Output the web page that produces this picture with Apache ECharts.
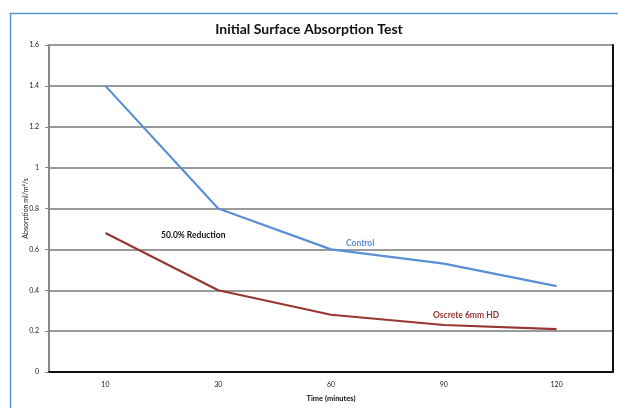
<!DOCTYPE html>
<html><head><meta charset="utf-8">
<script src="https://cdn.jsdelivr.net/npm/echarts@6/dist/echarts.min.js"></script>
<style>html,body{margin:0;padding:0;background:#fff}#c{width:618px;height:408px}</style>
</head><body><div id="c"></div>
<script>
const categories = ['10', '30', '60', '90', '120'];
const controlValues = [1.4, 0.8, 0.6, 0.53, 0.42];
const oscreteValues = [0.68, 0.40, 0.28, 0.23, 0.21];
const yTicks = [0, 0.2, 0.4, 0.6, 0.8, 1, 1.2, 1.4, 1.6];

const FONT = 'Lato, "Open Sans", sans-serif';
const chart = echarts.init(document.getElementById('c'), null, {renderer: 'canvas'});
chart.setOption({
  animation: false,
  backgroundColor: '#fff',
  title: {
    text: 'Initial Surface Absorption Test',
    left: 'center', top: 17,
    textStyle: {fontFamily: FONT, fontSize: 14, fontWeight: 'bold', color: '#111'}
  },
  grid: {left: 49, right: 5, top: 45, bottom: 34, containLabel: false},
  xAxis: [{
    type: 'category', data: categories, boundaryGap: true,
    name: 'Time (minutes)', nameLocation: 'middle', nameGap: 23,
    nameTextStyle: {fontFamily: FONT, fontSize: 7.5, fontWeight: 'bold', color: '#111'},
    axisLine: {lineStyle: {color: '#666', width: 2}},
    axisTick: {show: false},
    axisLabel: {fontFamily: FONT, fontSize: 7, color: '#222', margin: 9}
  }, {
    type: 'category', data: categories, position: 'top',
    axisLine: {lineStyle: {color: '#111', width: 2}},
    axisTick: {show: false}, axisLabel: {show: false}
  }],
  yAxis: [{
    type: 'value', min: 0, max: 1.6, interval: 0.2,
    name: 'Absorption ml/m²/s', nameLocation: 'middle', nameGap: 20, nameRotate: 90,
    nameMoveOverlap: false,
    nameTextStyle: {fontFamily: FONT, fontSize: 7, color: '#222'},
    axisLine: {show: true, lineStyle: {color: '#888', width: 2}},
    axisTick: {show: true, length: 4, lineStyle: {color: '#888'}},
    axisLabel: {fontFamily: FONT, fontSize: 7, color: '#222', margin: 10,
      formatter: v => { const t = yTicks.find(x => Math.abs(x - v) < 1e-9); return String(t); }},
    splitLine: {show: true, lineStyle: {color: '#9a9a9a', width: 2}}
  }, {
    type: 'value', min: 0, max: 1.6, interval: 0.2, position: 'right',
    axisLine: {show: true, lineStyle: {color: '#111', width: 2}},
    axisTick: {show: false}, axisLabel: {show: false}, splitLine: {show: false}
  }],
  series: [{
    name: 'Control', type: 'line', data: controlValues,
    symbol: 'none', lineStyle: {color: '#5a8fd6', width: 2.2}, z: 5
  }, {
    name: 'Oscrete 6mm HD', type: 'line', data: oscreteValues,
    symbol: 'none', lineStyle: {color: '#963634', width: 2.2}, z: 5
  }],
  graphic: [
    {type: 'rect', left: 8, top: 11, shape: {width: 700, height: 500},
     style: {fill: 'none', stroke: '#5b8fd8', lineWidth: 1.5}, z: 100, silent: true},
    {type: 'text', left: 161, top: 231,
     style: {text: '50.0% Reduction', fill: '#111', font: 'bold 8.5px ' + FONT}, z: 100},
    {type: 'text', left: 346, top: 239,
     style: {text: 'Control', fill: '#5a8fd6', font: 'bold 8.5px ' + FONT}, z: 100},
    {type: 'text', left: 433, top: 311,
     style: {text: 'Oscrete 6mm HD', fill: '#963634', font: 'bold 8.5px ' + FONT}, z: 100}
  ]
});
</script></body></html>
